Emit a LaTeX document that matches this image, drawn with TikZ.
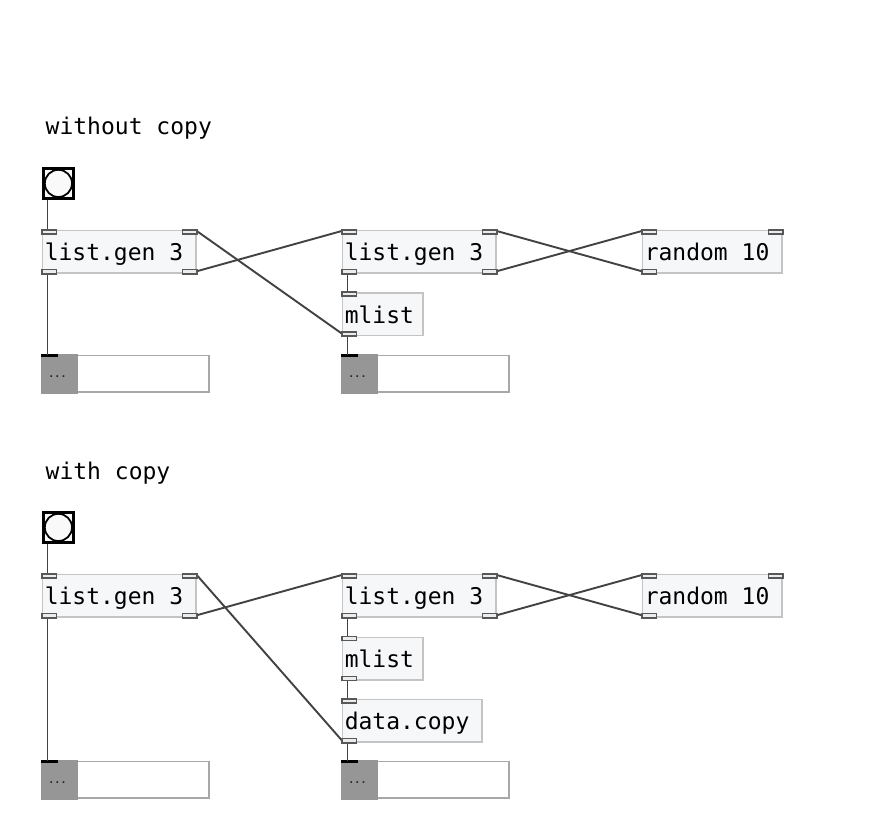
\documentclass[tikz,border=0pt]{standalone}
\usepackage{fontspec}
\newfontfamily\pdmono{DejaVu Sans Mono}
\newcommand\pdfont{\pdmono\fontsize{23}{27}\selectfont}
\newcommand\pddotfont{\pdmono\bfseries\fontsize{10}{12}\selectfont}
\definecolor{objline}{RGB}{196,196,196}
\definecolor{objfill}{RGB}{246,247,249}
\definecolor{portline}{RGB}{88,88,88}
\definecolor{portfill}{RGB}{236,236,236}
\definecolor{wirecol}{RGB}{66,66,66}
\definecolor{displine}{RGB}{168,168,168}
\definecolor{dispgray}{RGB}{150,150,150}
\definecolor{bangfill}{RGB}{249,249,249}
\tikzset{
  objw/.code={\pgfmathsetmacro\objmw{#1-1.5}\pgfmathsetmacro\objtw{#1-6}%
    \edef\objtmp{\noexpand\tikzset{minimum width=\objmw pt, text width=\objtw pt}}\objtmp},
  obj/.style={draw=objline, fill=objfill, line width=1.5pt, anchor=north west,
    minimum height=42.5pt, inner xsep=2.25pt, inner ysep=0pt, text height=18pt,
    text depth=0pt, font=\pdfont, objw=#1,
    execute at begin node={\spaceskip=0pt\xspaceskip=0pt\rightskip=0pt plus 1fil\relax}},
  pdcomment/.style={anchor=base west, inner sep=0pt, font=\pdfont},
  bangbox/.style={draw=black, line width=2.5pt, fill=bangfill, minimum size=29.8pt,
    inner sep=0pt, anchor=north west},
  disp/.style={draw=displine, fill=white, line width=1.5pt, anchor=north west,
    minimum width=166.5pt, minimum height=36.5pt, inner sep=0pt},
  pddots/.style={anchor=base, inner sep=0pt, font=\pddotfont, text=black!85},
  pdport/.style={draw=portline, fill=portfill, line width=1.5pt},
  pdwire/.style={draw=wirecol, line width=1.9pt}
}
\newcommand\portTL[1]{\draw[pdport] (#1.north west) rectangle ++(14.5,4.2);}
\newcommand\portTR[1]{\draw[pdport] (#1.north east) rectangle ++(-14.5,4.2);}
\newcommand\portBL[1]{\draw[pdport] (#1.south west) rectangle ++(14.5,-4.2);}
\newcommand\portBR[1]{\draw[pdport] (#1.south east) rectangle ++(-14.5,-4.2);}
\newcommand\dispdeco[2]{%
  \fill[dispgray] ([xshift=-0.75pt,yshift=0.75pt]#1.north west) rectangle ([xshift=35.75pt,yshift=-0.75pt]#1.south west);
  \fill[black] ([xshift=-0.75pt,yshift=0.75pt]#1.north west) rectangle ++(16.5,3.3);
  \node[pddots] (#2) at ([xshift=15.75pt,yshift=-22.75pt]#1.north west) {...};}
\begin{document}
\begin{tikzpicture}[x=1pt,y=-1pt]
\useasboundingbox (0,0) rectangle (869,838);
\fill[white] (0,0) rectangle (869,838);
% ---------- without copy ----------
\node[pdcomment] (c1) at (45.5,134.3) {without copy};
\node[bangbox] (bang1) at (42.25,167.25) {};
\draw[line width=1.8pt] (bang1.center) circle[radius=13.6pt];
\node[obj=155] (A1) at (41.75,229.75) {list.gen 3};
\node[obj=155] (B1) at (341.75,229.75) {list.gen 3};
\node[obj=141] (R1) at (641.75,229.75) {random 10};
\node[obj=82] (M1) at (341.75,292) {mlist};
\node[disp] (D1) at (41.75,354.75) {};
\node[disp] (D2) at (341.75,354.75) {};
\dispdeco{D1}{e1}
\dispdeco{D2}{e2}
% wires
\draw[pdwire] ([xshift=5.25pt]bang1.south west) -- ([xshift=5.75pt]A1.north west);
\draw[pdwire] ([xshift=5.75pt]A1.south west) -- ([xshift=5.75pt]D1.north west);
\draw[pdwire] ([yshift=2.5pt]A1.south east) -- ([yshift=-1.25pt]B1.north west);
\draw[pdwire] ([yshift=2.5pt]M1.south west) -- ([yshift=-1.25pt]A1.north east);
\draw[pdwire] ([yshift=2.5pt]B1.south east) -- ([yshift=-1.25pt]R1.north west);
\draw[pdwire] ([yshift=2.5pt]R1.south west) -- ([yshift=-1.25pt]B1.north east);
\draw[pdwire] ([xshift=5.75pt]B1.south west) -- ([xshift=5.75pt]M1.north west);
\draw[pdwire] ([xshift=5.75pt]M1.south west) -- ([xshift=5.75pt]D2.north west);
% ports
\portTL{A1}\portTR{A1}\portBL{A1}\portBR{A1}
\portTL{B1}\portTR{B1}\portBL{B1}\portBR{B1}
\portTL{R1}\portTR{R1}\portBL{R1}
\portTL{M1}\portBL{M1}
% ---------- with copy ----------
\node[pdcomment] (c2) at (45.5,479.3) {with copy};
\node[bangbox] (bang2) at (42.25,511.25) {};
\draw[line width=1.8pt] (bang2.center) circle[radius=13.6pt];
\node[obj=155] (A2) at (41.75,573.75) {list.gen 3};
\node[obj=155] (B2) at (341.75,573.75) {list.gen 3};
\node[obj=141] (R2) at (641.75,573.75) {random 10};
\node[obj=82] (M2) at (341.75,636.5) {mlist};
\node[obj=141] (C2) at (341.75,698.75) {data.copy};
\node[disp] (D3) at (41.75,760.75) {};
\node[disp] (D4) at (341.75,760.75) {};
\dispdeco{D3}{e3}
\dispdeco{D4}{e4}
% wires
\draw[pdwire] ([xshift=5.25pt]bang2.south west) -- ([xshift=5.75pt]A2.north west);
\draw[pdwire] ([xshift=5.75pt]A2.south west) -- ([xshift=5.75pt]D3.north west);
\draw[pdwire] ([yshift=2.5pt]A2.south east) -- ([yshift=-1.25pt]B2.north west);
\draw[pdwire] ([yshift=2.5pt]C2.south west) -- ([yshift=-1.25pt]A2.north east);
\draw[pdwire] ([yshift=2.5pt]B2.south east) -- ([yshift=-1.25pt]R2.north west);
\draw[pdwire] ([yshift=2.5pt]R2.south west) -- ([yshift=-1.25pt]B2.north east);
\draw[pdwire] ([xshift=5.75pt]B2.south west) -- ([xshift=5.75pt]M2.north west);
\draw[pdwire] ([xshift=5.75pt]M2.south west) -- ([xshift=5.75pt]C2.north west);
\draw[pdwire] ([xshift=5.75pt]C2.south west) -- ([xshift=5.75pt]D4.north west);
% ports
\portTL{A2}\portTR{A2}\portBL{A2}\portBR{A2}
\portTL{B2}\portTR{B2}\portBL{B2}\portBR{B2}
\portTL{R2}\portTR{R2}\portBL{R2}
\portTL{M2}\portBL{M2}
\portTL{C2}\portBL{C2}
\end{tikzpicture}
\end{document}
